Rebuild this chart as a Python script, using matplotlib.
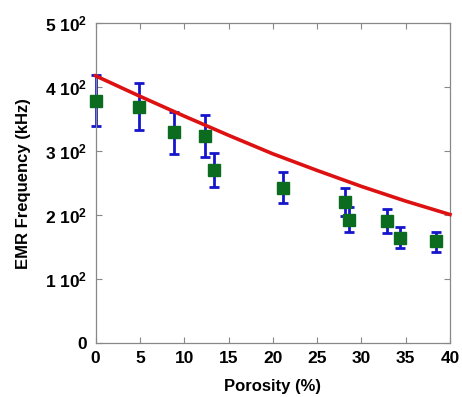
import matplotlib
matplotlib.use("Agg")
import matplotlib.pyplot as plt
import numpy as np

# measured EMR frequency vs porosity
porosity = [0.0, 4.9, 8.8, 12.4, 13.4, 21.2, 28.1, 28.6, 32.9, 34.4, 38.4]
freq     = [378, 370, 330, 324, 271, 242, 221, 193, 191, 165, 159]
err_hi   = [419, 407, 362, 356, 298, 267, 243, 213, 210, 182, 174]
err_lo   = [340, 333, 296, 291, 244, 219, 198, 174, 172, 148, 143]

# fitted curve
fit_x = [0, 5, 10, 15, 20, 25, 30, 35, 40]
fit_y = [418, 386, 355, 325, 296, 270, 245, 222, 201]

yticks = [0, 100, 200, 300, 400, 500]
ytick_labels = ["0", "1 10$^2$", "2 10$^2$", "3 10$^2$", "4 10$^2$", "5 10$^2$"]
xticks = [0, 5, 10, 15, 20, 25, 30, 35, 40]

plt.rcParams["font.family"] = ["Liberation Sans", "DejaVu Sans"]
plt.rcParams["mathtext.fontset"] = "custom"
plt.rcParams["mathtext.rm"] = "Liberation Sans:bold"
plt.rcParams["mathtext.it"] = "Liberation Sans:bold"
plt.rcParams["mathtext.bf"] = "Liberation Sans:bold"

fig = plt.figure(figsize=(4.62, 3.97), dpi=100)
ax = fig.add_axes([0.207, 0.136, 0.767, 0.805])

f = np.array(freq)
yerr = [f - np.array(err_lo), np.array(err_hi) - f]
eb = ax.errorbar(porosity, freq, yerr=yerr, fmt="none", ecolor="#1515cc",
                 elinewidth=2.0, capsize=3.5, capthick=2.0, zorder=2)
for art in eb.lines[1] + eb.lines[2]:
    art.set_clip_on(False)
ax.plot(fit_x, fit_y, color="#dd1111", linewidth=2.6, zorder=3, clip_on=False)
ax.plot(porosity, freq, "s", color="#0b6b1f", markersize=8.5, zorder=4,
        clip_on=False)

ax.set_xlim(0, 40)
ax.set_ylim(0, 500)
ax.set_xticks(xticks)
ax.set_yticks(yticks)
ax.set_yticklabels(ytick_labels)
ax.tick_params(direction="in", length=4, color="#888888", width=0.8,
               top=True, right=True, labelsize=12.5, pad=6)
for lbl in ax.get_xticklabels() + ax.get_yticklabels():
    lbl.set_fontweight("bold")
for s in ax.spines.values():
    s.set_color("#888888")
    s.set_linewidth(0.9)

ax.set_xlabel("Porosity (%)", fontsize=12, fontweight="bold", labelpad=9)
ax.set_ylabel("EMR Frequency (kHz)", fontsize=12, fontweight="bold", labelpad=10)

fig.savefig("out.png", dpi=100)
